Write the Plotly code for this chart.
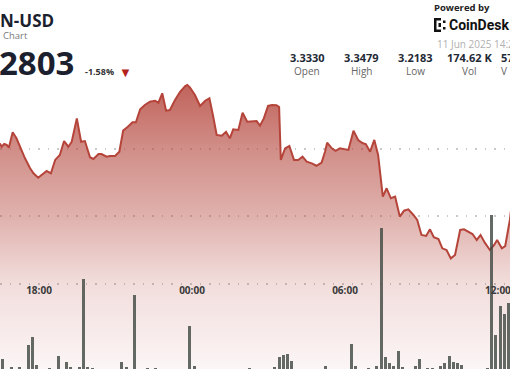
import plotly.graph_objects as go

# ---------------- data ----------------
price_time = [
    "2025-06-10 16:28", "2025-06-10 16:32", "2025-06-10 16:38", "2025-06-10 16:44", "2025-06-10 16:49",
    "2025-06-10 16:58", "2025-06-10 17:07", "2025-06-10 17:15", "2025-06-10 17:27", "2025-06-10 17:39",
    "2025-06-10 17:47", "2025-06-10 17:58", "2025-06-10 18:06", "2025-06-10 18:18", "2025-06-10 18:28",
    "2025-06-10 18:38", "2025-06-10 18:49", "2025-06-10 18:59", "2025-06-10 19:09", "2025-06-10 19:17",
    "2025-06-10 19:29", "2025-06-10 19:39", "2025-06-10 19:48", "2025-06-10 20:00", "2025-06-10 20:08",
    "2025-06-10 20:20", "2025-06-10 20:27", "2025-06-10 20:39", "2025-06-10 20:47", "2025-06-10 20:59",
    "2025-06-10 21:09", "2025-06-10 21:18", "2025-06-10 21:29", "2025-06-10 21:40", "2025-06-10 21:48",
    "2025-06-10 21:58", "2025-06-10 22:09", "2025-06-10 22:21", "2025-06-10 22:33", "2025-06-10 22:41",
    "2025-06-10 22:50", "2025-06-10 22:59", "2025-06-10 23:08", "2025-06-10 23:20", "2025-06-10 23:32",
    "2025-06-10 23:44", "2025-06-10 23:49", "2025-06-10 23:55", "2025-06-11 00:07", "2025-06-11 00:19",
    "2025-06-11 00:31", "2025-06-11 00:41", "2025-06-11 00:50", "2025-06-11 00:58", "2025-06-11 01:10",
    "2025-06-11 01:20", "2025-06-11 01:29", "2025-06-11 01:37", "2025-06-11 01:49", "2025-06-11 01:59",
    "2025-06-11 02:10", "2025-06-11 02:24", "2025-06-11 02:32", "2025-06-11 02:40", "2025-06-11 02:49",
    "2025-06-11 02:59", "2025-06-11 03:08", "2025-06-11 03:19", "2025-06-11 03:25", "2025-06-11 03:29",
    "2025-06-11 03:39", "2025-06-11 03:49", "2025-06-11 04:00", "2025-06-11 04:10", "2025-06-11 04:20",
    "2025-06-11 04:30", "2025-06-11 04:42", "2025-06-11 04:53", "2025-06-11 05:05", "2025-06-11 05:13",
    "2025-06-11 05:18", "2025-06-11 05:29", "2025-06-11 05:38", "2025-06-11 05:48", "2025-06-11 06:08",
    "2025-06-11 06:20", "2025-06-11 06:31", "2025-06-11 06:42", "2025-06-11 06:49", "2025-06-11 06:59",
    "2025-06-11 07:09", "2025-06-11 07:18", "2025-06-11 07:29", "2025-06-11 07:38", "2025-06-11 07:48",
    "2025-06-11 07:58", "2025-06-11 08:09", "2025-06-11 08:19", "2025-06-11 08:29", "2025-06-11 08:41",
    "2025-06-11 08:50", "2025-06-11 09:00", "2025-06-11 09:11", "2025-06-11 09:20", "2025-06-11 09:29",
    "2025-06-11 09:40", "2025-06-11 09:49", "2025-06-11 09:59", "2025-06-11 10:09", "2025-06-11 10:19",
    "2025-06-11 10:31", "2025-06-11 10:40", "2025-06-11 10:50", "2025-06-11 11:00", "2025-06-11 11:10",
    "2025-06-11 11:19", "2025-06-11 11:29", "2025-06-11 11:41", "2025-06-11 11:51", "2025-06-11 11:58",
    "2025-06-11 12:09", "2025-06-11 12:17", "2025-06-11 12:28", "2025-06-11 12:40",
]
price = [
    3.3042, 3.3017, 3.3037, 3.3030, 3.3010, 3.3124, 3.3079, 3.3017, 3.2931, 3.2857,
    3.2820, 3.2787, 3.2807, 3.2837, 3.2820, 3.2919, 3.2956, 3.3059, 3.3017, 3.3054,
    3.3227, 3.3054, 3.3059, 3.2939, 3.2926, 3.2963, 3.2963, 3.2943, 3.2948, 3.2948,
    3.2980, 3.3136, 3.3165, 3.3198, 3.3198, 3.3294, 3.3326, 3.3350, 3.3358, 3.3343,
    3.3413, 3.3284, 3.3289, 3.3363, 3.3424, 3.3467, 3.3474, 3.3457, 3.3400, 3.3319,
    3.3358, 3.3376, 3.3239, 3.3104, 3.3099, 3.3128, 3.3079, 3.3146, 3.3141, 3.3269,
    3.3202, 3.3202, 3.3207, 3.3173, 3.3227, 3.3319, 3.3326, 3.3324, 3.3311, 3.2919,
    3.3005, 3.3022, 3.2919, 3.2919, 3.2943, 3.2906, 3.2894, 3.2876, 3.2899, 3.2980,
    3.3047, 3.3005, 3.2987, 3.3005, 3.2993, 3.3136, 3.3067, 3.3042, 3.3037, 3.2980,
    3.3067, 3.2956, 3.2647, 3.2709, 3.2635, 3.2647, 3.2499, 3.2543, 3.2553, 3.2511,
    3.2474, 3.2363, 3.2356, 3.2405, 3.2346, 3.2333, 3.2264, 3.2252, 3.2190, 3.2215,
    3.2400, 3.2405, 3.2387, 3.2370, 3.2326, 3.2363, 3.2306, 3.2252, 3.2289, 3.2326,
    3.2264, 3.2281, 3.2474, 3.2803,
]

vol_time = [
    "2025-06-10 16:35", "2025-06-10 16:55", "2025-06-10 17:15", "2025-06-10 17:35", "2025-06-10 17:45",
    "2025-06-10 17:55", "2025-06-10 18:25", "2025-06-10 18:45", "2025-06-10 19:05", "2025-06-10 19:15",
    "2025-06-10 19:35", "2025-06-10 19:45", "2025-06-10 19:55", "2025-06-10 20:05", "2025-06-10 21:15",
    "2025-06-10 21:25", "2025-06-10 21:45", "2025-06-10 22:15", "2025-06-10 22:35", "2025-06-10 23:55",
    "2025-06-11 00:05", "2025-06-11 02:15", "2025-06-11 03:15", "2025-06-11 03:25", "2025-06-11 03:35",
    "2025-06-11 03:45", "2025-06-11 03:55", "2025-06-11 05:15", "2025-06-11 06:15", "2025-06-11 06:25",
    "2025-06-11 06:55", "2025-06-11 07:15", "2025-06-11 07:25", "2025-06-11 07:35", "2025-06-11 07:45",
    "2025-06-11 07:55", "2025-06-11 08:05", "2025-06-11 08:15", "2025-06-11 08:45", "2025-06-11 08:55",
    "2025-06-11 09:15", "2025-06-11 09:25", "2025-06-11 09:45", "2025-06-11 09:55", "2025-06-11 10:05",
    "2025-06-11 10:15", "2025-06-11 10:25", "2025-06-11 10:35", "2025-06-11 11:35", "2025-06-11 11:45",
    "2025-06-11 11:55", "2025-06-11 12:05", "2025-06-11 12:15", "2025-06-11 12:25",
]
volume = [
    0.53, 0.12, 0.11, 1.30, 1.75, 0.22, 0.07, 0.70, 0.36, 0.12,
    0.12, 4.86, 0.12, 0.05, 0.36, 0.12, 4.01, 0.07, 0.05, 2.33,
    0.16, 0.08, 0.12, 0.65, 0.76, 0.79, 0.45, 0.18, 1.36, 0.14,
    0.08, 0.16, 7.63, 0.65, 0.30, 0.16, 0.99, 0.11, 0.18, 0.56,
    0.08, 0.08, 0.16, 0.31, 0.72, 0.40, 0.31, 0.22, 0.05, 8.35,
    1.84, 3.41, 2.98, 3.56,
]

stat_values = ["3.3330", "3.3479", "3.2183", "174.62 K", "57"]
stat_labels = ["Open", "High", "Low", "Vol", "V"]
price_grid = [3.20, 3.25, 3.30]

# ---------------- figure ----------------
W, H = 510, 369
def px(x):
    return x / W
def py(y):
    return 1 - y / H

fig = go.Figure()

fig.add_trace(go.Scatter(
    x=price_time, y=price, mode="lines",
    line=dict(color="#b5443a", width=2),
    fill="tozeroy",
    fillgradient=dict(
        type="vertical",
        start=3.137, stop=3.35,
        colorscale=[
            [0.0, "rgba(180,70,60,0.05)"],
            [0.296, "rgba(180,70,60,0.18)"],
            [0.531, "rgba(180,70,60,0.42)"],
            [0.765, "rgba(180,70,60,0.61)"],
            [1.0, "rgba(180,70,60,0.85)"],
        ],
    ),
    hoverinfo="skip", showlegend=False, yaxis="y",
))

fig.add_trace(go.Bar(
    x=vol_time, y=volume, yaxis="y2",
    width=420000,
    marker=dict(color="rgba(66,74,68,0.82)", line=dict(width=0)),
    hoverinfo="skip", showlegend=False,
))

fig.update_layout(
    width=W, height=H,
    margin=dict(l=0, r=0, t=0, b=0),
    paper_bgcolor="white", plot_bgcolor="white",
    xaxis=dict(
        type="date",
        range=["2025-06-10 16:28:12", "2025-06-11 12:28:18"],
        anchor="free", position=0.233,
        tick0="2025-06-10 00:00", dtick=21600000, tickformat="%H:%M",
        showgrid=False, zeroline=False, showline=False, ticks="",
        ticklabeloverflow="allow",
        tickfont=dict(family="Open Sans", size=10, color="#3a3a3a", weight="bold"),
    ),
    yaxis=dict(
        range=[3.137, 3.4104],
        tickvals=price_grid, showticklabels=False,
        showgrid=True, gridcolor="#c9c9c9", gridwidth=1.5, griddash="1.5px,8px",
        zeroline=False, showline=False,
    ),
    yaxis2=dict(
        range=[0, 20], overlaying="y", showgrid=False, showticklabels=False,
        zeroline=False, showline=False,
    ),
    bargap=0,
)

ann = []
def text(x, y, s, size, color, bold=False, xanchor="left", family="Open Sans"):
    ann.append(dict(
        x=px(x), y=py(y), xref="paper", yref="paper", text=s, showarrow=False,
        xanchor=xanchor, yanchor="middle", borderpad=0,
        font=dict(family=family, size=size, color=color, weight="bold" if bold else "normal"),
    ))

text(-1, 20.5, "N-USD", 17, "#1b1f2e", bold=True)
text(2, 36, "Chart", 9.5, "#7a7a7a")
text(-2, 62, "2803", 33, "#1b1f2e", bold=True)
text(84, 72, "-1.58%", 9, "#333333", bold=True)
text(125, 72, "▼", 13, "#b3221b", xanchor="center")
text(433, 7.5, "Powered by", 9.5, "#222222", bold=True)
text(448, 25, "CoinDesk", 14, "#111111", bold=True, family="Roboto")
text(436, 43.5, "11 Jun 2025 14:24", 10, "#b0b0b0")

centers = [307, 361, 415, 469, 500]
for i, (v, l) in enumerate(zip(stat_values, stat_labels)):
    anchor = "left" if i == 4 else "center"
    text(centers[i], 57.5, v, 11, "#1f2a36", bold=True, xanchor=anchor)
    text(centers[i], 71, l, 10, "#666666", xanchor=anchor)

fig.update_layout(annotations=ann)

# CoinDesk logo mark (bracket of blocks)
logo = [
    (434, 18, 436.5, 32), (434, 18, 441, 20.5), (434, 29.5, 441, 32),
    (438.5, 23, 441, 27), (443, 20.5, 445.5, 23), (443, 27, 445.5, 29.5),
]
for x0, y0, x1, y1 in logo:
    fig.add_shape(type="rect", xref="paper", yref="paper",
                  x0=px(x0), x1=px(x1), y0=py(y1), y1=py(y0),
                  fillcolor="#111111", line=dict(width=0))

fig.write_html("out.html", config={"displayModeBar": False})
